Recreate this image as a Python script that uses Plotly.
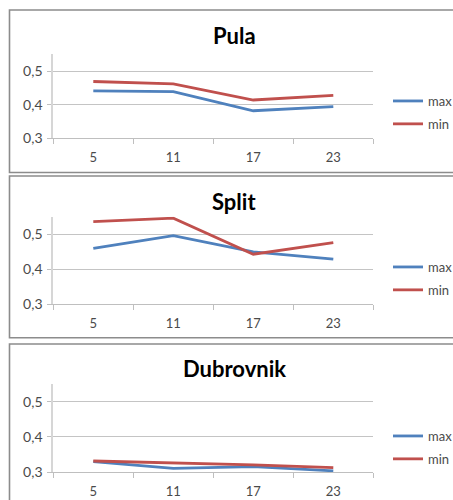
import plotly.graph_objects as go

hours = ["5", "11", "17", "23"]
cities = ["Pula", "Split", "Dubrovnik"]
pula_max = [0.441, 0.439, 0.382, 0.394]
pula_min = [0.469, 0.462, 0.414, 0.428]
split_max = [0.460, 0.496, 0.450, 0.429]
split_min = [0.536, 0.546, 0.443, 0.476]
dub_max = [0.330, 0.311, 0.316, 0.304]
dub_min = [0.332, 0.327, 0.321, 0.313]
series_names = ["max", "min"]
y_ticks = [0.3, 0.4, 0.5]

W, H = 453, 500
BLUE = "#4F81BD"
RED = "#C0504D"
FONT = "Lato"

def px_x(p):
    return p / W

def px_y(p):
    return 1 - p / H

# plot areas in window pixel coordinates (top = 0.55, bottom = 0.3)
panels = [
    dict(top=54.3, bottom=138.3, box=(10, 172.5), title_y=35, leg_y=86),
    dict(top=216.8, bottom=304.3, box=(176, 337.8), title_y=201.5, leg_y=252),
    dict(top=384.0, bottom=472.3, box=(344, 560), title_y=368, leg_y=421),
]
data = [(pula_max, pula_min), (split_max, split_min), (dub_max, dub_min)]

fig = go.Figure()
shapes = []
annotations = []
for i, (p, (vmax, vmin)) in enumerate(zip(panels, data)):
    n = "" if i == 0 else str(i + 1)
    leg = "legend" + n
    for name, vals, col in zip(series_names, [vmax, vmin], [BLUE, RED]):
        fig.add_trace(go.Scatter(
            x=hours, y=vals, name=name, mode="lines",
            line=dict(color=col, width=2.8),
            xaxis="x" + n, yaxis="y" + n, legend=leg,
            legendgroup=f"{name}{i}",
        ))
    fig.update_layout(**{
        "xaxis" + n: dict(
            domain=[px_x(53.3), px_x(373.3)], anchor="y" + n,
            type="category", categoryorder="array", categoryarray=hours,
            range=[-0.5, 3.5], tickson="boundaries", ticks="outside",
            ticklen=5, tickcolor="#bfbfbf", showline=True, linecolor="#bfbfbf",
            linewidth=1, showgrid=False, zeroline=False,
            ticklabelstandoff=7, automargin=False,
            tickfont=dict(family=FONT, size=13, color="#4a4a4a"),
            fixedrange=True,
        ),
        "yaxis" + n: dict(
            domain=[px_y(p["bottom"]), px_y(p["top"])], anchor="x" + n,
            range=[0.3, 0.55], tickvals=y_ticks, tickformat=".1f",
            ticks="outside", ticklen=4, tickcolor="#bfbfbf",
            showline=True, linecolor="#d6d6d6", linewidth=2,
            showgrid=True, gridcolor="#c4c4c4", gridwidth=1, zeroline=False,
            ticklabelstandoff=2, automargin=False,
            tickfont=dict(family=FONT, size=14, color="#4a4a4a"),
            fixedrange=True,
        ),
        leg: dict(
            x=px_x(388), y=px_y(p["leg_y"]), xanchor="left", yanchor="top",
            font=dict(family=FONT, size=13, color="#4a4a4a"),
            bgcolor="rgba(0,0,0,0)", traceorder="grouped", tracegroupgap=3,
            itemclick=False, itemdoubleclick=False,
        ),
    })
    y0, y1 = p["box"]
    shapes.append(dict(
        type="rect", xref="paper", yref="paper",
        x0=px_x(9.5), x1=3, y0=px_y(y1), y1=px_y(y0),
        line=dict(color="#8c8c8c", width=1.6), fillcolor="rgba(0,0,0,0)",
        layer="below",
    ))
    annotations.append(dict(
        text=f"<b>{cities[i]}</b>", xref="paper", yref="paper",
        x=px_x(234), y=px_y(p["title_y"]), xanchor="center", yanchor="middle",
        showarrow=False, font=dict(family=FONT, size=22, color="#000000"),
    ))

fig.update_layout(
    width=W, height=H,
    margin=dict(l=0, r=0, t=0, b=0, pad=0, autoexpand=False),
    paper_bgcolor="white", plot_bgcolor="white",
    separators=",.", shapes=shapes, annotations=annotations,
    showlegend=True,
)

fig.write_html(
    "out.html",
    config={"displayModeBar": False},
    post_script=(
        "document.documentElement.style.margin='0';"
        "document.body.style.margin='0';"
        "document.documentElement.style.overflow='hidden';"
        "document.body.style.overflow='hidden';"
    ),
)
